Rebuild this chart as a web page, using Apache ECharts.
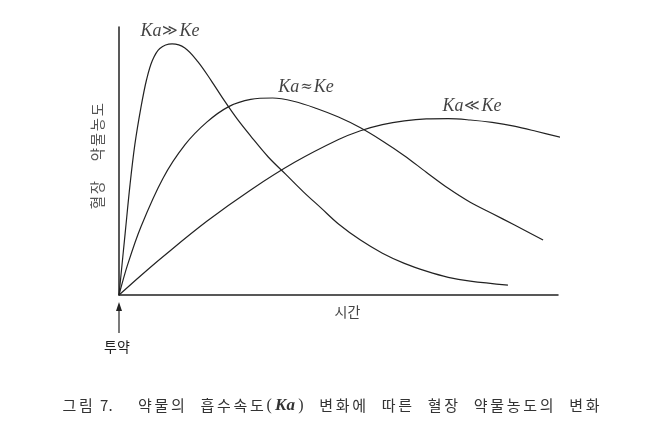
<!DOCTYPE html>
<html>
<head>
<meta charset="utf-8">
<script src="https://cdn.jsdelivr.net/npm/echarts@6/dist/echarts.min.js"></script>
<style>
html,body{margin:0;padding:0;background:#fff;}
#chart{width:662px;height:438px;}
</style>
</head>
<body>
<div id="chart"></div>
<script>
// Time (arbitrary units, 0-100 along the axis) and plasma concentration (0-100)
const timeKaHigh = [0, 1.4, 2.5, 3.6, 5.0, 6.3, 7.6, 9.3, 12.1, 15, 18, 21, 24, 27, 30, 34, 38, 42, 46, 50, 55, 60, 65, 70, 75, 80, 88.6];
const concKaHigh = [0, 23, 41, 56, 70, 80.5, 87.5, 92, 93.7, 92.2, 87, 80, 72.5, 65.5, 59.3, 51.5, 45, 38.5, 32.5, 26.5, 20.5, 15.6, 11.8, 8.9, 6.6, 5.2, 3.7];

const timeKaEq = [0, 2, 5, 10, 15, 20, 25, 30, 35, 40, 45, 50, 55, 60, 65, 70, 75, 80, 85, 90, 96.6];
const concKaEq = [0, 11.5, 25.5, 43.5, 56, 64.5, 70.3, 73, 73.5, 72.2, 69.6, 66.4, 62.4, 57.5, 52, 45.8, 39.8, 34.6, 30.4, 26.2, 20.5];

const timeKaLow = [0, 5, 10, 20, 30, 40, 50, 55, 60, 65, 70, 75, 80, 85, 90, 95, 101.1];
const concKaLow = [0, 7.3, 14.3, 27.5, 39.2, 49.5, 58.0, 61.3, 63.6, 65.0, 65.7, 65.8, 65.3, 64.4, 63.0, 61.1, 58.6];

const seriesNames = ['Ka≫Ke', 'Ka≈Ke', 'Ka≪Ke'];
const labelSymbols = ['≫', '≈', '≪'];
const labelX = [11.6, 42.6, 80.4];
const labelY = [98.5, 77.6, 70.5];

const yAxisWords = ['혈장', '약물농도'];
const xAxisTitle = '시간';
const doseLabel = '투약';
const captionLabel = '그림';
const captionNumber = '7.';
const captionWords1 = '약물의 흡수속도';
const captionKa = 'Ka';
const captionWords2 = '변화에 따른 혈장 약물농도의 변화';

const pairs = (xs, ys) => xs.map((x, i) => [x, ys[i]]);
const curves = [pairs(timeKaHigh, concKaHigh), pairs(timeKaEq, concKaEq), pairs(timeKaLow, concKaLow)];

const lineColor = '#222';
const kr = '"Noto Sans CJK KR", "Noto Sans", sans-serif';
const serif = '"Liberation Serif", "DejaVu Serif", serif';

// rich-text helper: one segment per character so spacing matches the print
const richChars = (s, st) => Array.from(s).map(ch => ch === ' ' ? '{w| }' : '{' + st + '|' + ch + '}').join('');

const chart = echarts.init(document.getElementById('chart'), null, {renderer: 'canvas'});

const series = curves.map((d, i) => ({
  name: seriesNames[i],
  type: 'line',
  data: d,
  showSymbol: false,
  smooth: 0.35,
  clip: false,
  lineStyle: {color: lineColor, width: 1.2},
  silent: true,
  z: 3
}));

series.push({
  type: 'scatter',
  data: labelX.map((x, i) => [x, labelY[i], labelSymbols[i]]),
  symbolSize: 1,
  itemStyle: {color: 'rgba(0,0,0,0)'},
  silent: true,
  label: {
    show: true,
    position: 'inside',
    formatter: p => '{i|Ka}{s|' + p.value[2] + '}{i|Ke}',
    rich: {
      i: {fontFamily: serif, fontStyle: 'italic', fontSize: 18, color: '#111'},
      s: {fontFamily: '"DejaVu Serif", serif', fontSize: 15, color: '#111', padding: [0, 1, 0, 1]}
    }
  },
  z: 5
});

const captionText =
  richChars(captionLabel, 'c') + '{v| }' + '{n|' + captionNumber + '}' + '{g| }' +
  richChars(captionWords1, 'c') + '{p|(}{k|' + captionKa + '}{p|)}' + '{w| }' +
  richChars(captionWords2, 'c');

const yName = '{b| }' + richChars(yAxisWords[0], 'y') + '{yg| }' + richChars(yAxisWords[1], 'y');

chart.setOption({
  animation: false,
  backgroundColor: '#fff',
  grid: {left: 119, top: 27, right: 104, bottom: 143},
  title: {
    left: 'center',
    top: 392,
    text: captionText,
    textStyle: {
      fontWeight: 'normal',
      rich: {
        c: {fontFamily: kr, fontSize: 15, fontWeight: 'normal', color: '#333', width: 16.5},
        w: {fontFamily: kr, fontSize: 14, width: 13},
        v: {fontFamily: kr, fontSize: 14, width: 6},
        g: {fontFamily: kr, fontSize: 14, width: 24},
        n: {fontFamily: kr, fontSize: 15, fontWeight: 'normal', color: '#333'},
        p: {fontFamily: serif, fontSize: 16, color: '#333', width: 8, align: 'center'},
        k: {fontFamily: serif, fontStyle: 'italic', fontWeight: 'bold', fontSize: 17, color: '#333', padding: [0, 2, 0, 2]}
      }
    }
  },
  xAxis: {
    type: 'value',
    min: 0,
    max: 100,
    axisLine: {show: true, onZero: false, lineStyle: {color: lineColor, width: 1.5}},
    axisTick: {show: false},
    axisLabel: {show: false},
    splitLine: {show: false},
    name: xAxisTitle,
    nameLocation: 'middle',
    nameGap: 10,
    nameTextStyle: {fontFamily: kr, fontSize: 14, color: '#444', padding: [0, 0, 0, 18]}
  },
  yAxis: {
    type: 'value',
    min: 0,
    max: 100,
    axisLine: {show: true, onZero: false, lineStyle: {color: lineColor, width: 1.5}},
    axisTick: {show: false},
    axisLabel: {show: false},
    splitLine: {show: false},
    name: yName,
    nameLocation: 'middle',
    nameRotate: 90,
    nameGap: 14,
    nameTextStyle: {
      rich: {
        b: {fontFamily: kr, fontSize: 13, width: 10},
        y: {fontFamily: kr, fontSize: 14.5, color: '#555', width: 15},
        w: {fontFamily: kr, fontSize: 13, width: 8},
        yg: {fontFamily: kr, fontSize: 13, width: 18}
      }
    }
  },
  series: series
});

// Dose arrow anchored to the axis origin via the library's scales
const o = chart.convertToPixel({xAxisIndex: 0, yAxisIndex: 0}, [0, 0]);
chart.setOption({
  graphic: [
    {type: 'line', shape: {x1: o[0], y1: o[1] + 14, x2: o[0], y2: o[1] + 38}, style: {stroke: lineColor, lineWidth: 1.2}},
    {type: 'polygon', shape: {points: [[o[0], o[1] + 7], [o[0] - 3, o[1] + 16], [o[0] + 3, o[1] + 16]]}, style: {fill: lineColor}},
    {type: 'text', x: o[0] - 2, y: o[1] + 52, style: {text: doseLabel, font: '14px ' + kr, fill: '#222', align: 'center', verticalAlign: 'middle'}}
  ]
});
</script>
</body>
</html>
